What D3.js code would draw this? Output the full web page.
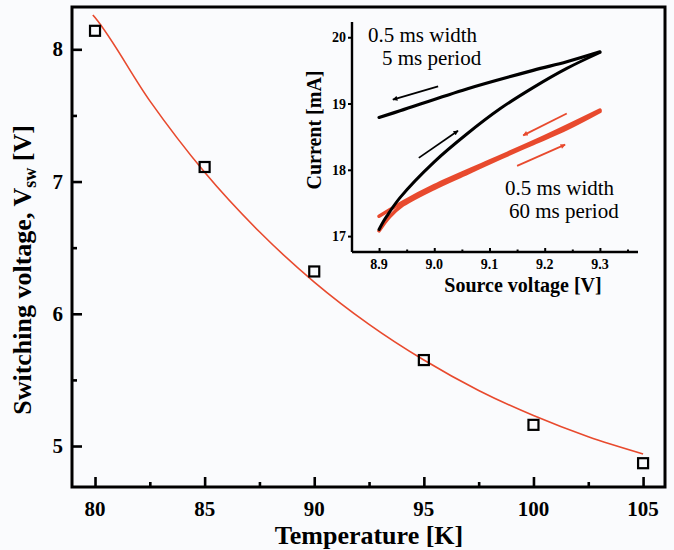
<!DOCTYPE html>
<html>
<head>
<meta charset="utf-8">
<script src="https://cdn.jsdelivr.net/npm/d3@7"></script>
<style>
  html, body { margin: 0; padding: 0; background: #fafbfd; }
  svg { display: block; }
  text { font-family: "Liberation Serif", "Times New Roman", serif; fill: #000; }
</style>
</head>
<body>
<svg id="chart" width="674" height="550"></svg>
<script>
// ---------- main chart data ----------
const temperatures = [80, 85, 90, 95, 100, 105];
const switchingVoltage = [8.14, 7.11, 6.32, 5.65, 5.16, 4.87];
// fitted curve
const fitTemperature = [79.9, 80, 82.5, 85, 87.5, 90, 92.5, 95, 97.5, 100, 102.5, 105];
const fitVoltage = [8.26, 8.24, 7.61, 7.07, 6.62, 6.24, 5.92, 5.65, 5.42, 5.23, 5.07, 4.94];
const xTicks = [80, 85, 90, 95, 100, 105];
const xMinorTicks = [82.5, 87.5, 92.5, 97.5, 102.5];
const yTicks = [5, 6, 7, 8];
const yMinorTicks = [5.5, 6.5, 7.5];

// ---------- inset data ----------
const black5msUpV = [8.9, 8.905, 8.914, 8.938, 9.0, 9.059, 9.119, 9.179, 9.24, 9.3];
const black5msUpI = [17.1, 17.18, 17.3, 17.58, 18.12, 18.54, 18.92, 19.24, 19.53, 19.77];
const black5msDownV = [9.3, 9.24, 9.179, 9.059, 8.938, 8.9];
const black5msDownI = [19.78, 19.63, 19.50, 19.22, 18.89, 18.79];
const red60msUpV = [8.9, 8.91, 8.92, 8.94, 9.0, 9.06, 9.12, 9.18, 9.24, 9.3];
const red60msUpI = [17.08, 17.2, 17.3, 17.45, 17.72, 17.95, 18.18, 18.4, 18.62, 18.88];
const red60msDownV = [9.3, 9.2, 9.1, 9.0, 8.94, 8.92, 8.9];
const red60msDownI = [18.9, 18.5, 18.13, 17.76, 17.5, 17.4, 17.3];
const insetXTicks = [8.9, 9.0, 9.1, 9.2, 9.3];
const insetXMinorTicks = [8.95, 9.05, 9.15, 9.25, 9.35];
const insetYTicks = [17, 18, 19, 20];
// arrows: [fromV, fromI, toV, toI]
const blackArrows = [[9.007, 19.26, 8.925, 19.06], [8.972, 18.18, 9.043, 18.59]];
const redArrows = [[9.240, 18.85, 9.161, 18.52], [9.150, 18.06, 9.237, 18.38]];

const RED = "#e84a2e";
const svg = d3.select("#chart");

svg.append("rect").attr("width", 674).attr("height", 550).attr("fill", "#fafbfd");

// arrow markers
const defs = svg.append("defs");
[["arrBlack", "#000"], ["arrRed", RED]].forEach(([id, c]) => {
  defs.append("marker").attr("id", id)
    .attr("viewBox", "0 0 10 10").attr("refX", 9).attr("refY", 5)
    .attr("markerWidth", 7).attr("markerHeight", 5).attr("markerUnits", "userSpaceOnUse")
    .attr("orient", "auto")
    .append("path").attr("d", "M0,0 L10,5 L0,10 Z").attr("fill", c);
});

// ---------- main chart ----------
const L = 72, R = 665, T = 7, B = 487;
const x = d3.scaleLinear().domain([78.95, 106]).range([L, R]);
const y = d3.scaleLinear().domain([4.69, 8.32]).range([B, T]);

// ticks (inward)
const gx = svg.append("g").attr("transform", `translate(0,${B})`)
  .call(d3.axisTop(x).tickValues(xTicks).tickSize(10).tickFormat(""));
const gxm = svg.append("g").attr("transform", `translate(0,${B})`)
  .call(d3.axisTop(x).tickValues(xMinorTicks).tickSize(5).tickFormat(""));
const gy = svg.append("g").attr("transform", `translate(${L},0)`)
  .call(d3.axisRight(y).tickValues(yTicks).tickSize(10).tickFormat(""));
const gym = svg.append("g").attr("transform", `translate(${L},0)`)
  .call(d3.axisRight(y).tickValues(yMinorTicks).tickSize(5).tickFormat(""));
[gx, gxm, gy, gym].forEach(g => {
  g.select(".domain").remove();
  g.selectAll("line").attr("stroke", "#000").attr("stroke-width", 2.6);
});

// tick labels
svg.append("g").selectAll("text").data(xTicks).join("text")
  .attr("x", d => x(d)).attr("y", 516).attr("text-anchor", "middle")
  .attr("font-size", 21).attr("font-weight", "bold").text(d => d);
svg.append("g").selectAll("text").data(yTicks).join("text")
  .attr("x", 63).attr("y", d => y(d) + 7).attr("text-anchor", "end")
  .attr("font-size", 21).attr("font-weight", "bold").text(d => d);

// frame
svg.append("rect").attr("x", L).attr("y", T).attr("width", R - L).attr("height", B - T)
  .attr("fill", "none").attr("stroke", "#000").attr("stroke-width", 3);

// fit line
const fitData = fitTemperature.map((t, i) => [t, fitVoltage[i]]);
svg.append("path").datum(fitData)
  .attr("d", d3.line().x(d => x(d[0])).y(d => y(d[1])).curve(d3.curveMonotoneX))
  .attr("fill", "none").attr("stroke", RED).attr("stroke-width", 1.6);

// squares
const sq = 10;
svg.append("g").selectAll("rect").data(temperatures.map((t, i) => [t, switchingVoltage[i]])).join("rect")
  .attr("x", d => x(d[0]) - sq / 2).attr("y", d => y(d[1]) - sq / 2)
  .attr("width", sq).attr("height", sq)
  .attr("fill", "none").attr("stroke", "#000").attr("stroke-width", 2.2);

// titles
svg.append("text").attr("x", 369).attr("y", 544).attr("text-anchor", "middle")
  .attr("font-size", 26).attr("font-weight", "bold").text("Temperature [K]");
const yt = svg.append("text").attr("transform", "translate(31,270) rotate(-90)")
  .attr("text-anchor", "middle").attr("font-size", 26).attr("font-weight", "bold");
yt.append("tspan").text("Switching voltage, V");
yt.append("tspan").attr("font-size", 18).attr("dy", 5).text("sw");
yt.append("tspan").attr("dy", -5).text(" [V]");

// ---------- inset ----------
const iL = 352, iR = 638, iT = 22, iB = 252;
const ix = d3.scaleLinear().domain([8.851, 9.369]).range([iL, iR]);
const iy = d3.scaleLinear().domain([16.76, 20.23]).range([iB, iT]);

const ig1 = svg.append("g").attr("transform", `translate(0,${iB})`)
  .call(d3.axisTop(ix).tickValues(insetXTicks).tickSize(4).tickFormat(""));
const ig2 = svg.append("g").attr("transform", `translate(0,${iB})`)
  .call(d3.axisTop(ix).tickValues(insetXMinorTicks).tickSize(2.5).tickFormat(""));
const ig3 = svg.append("g").attr("transform", `translate(${iL},0)`)
  .call(d3.axisLeft(iy).tickValues(insetYTicks).tickSize(4).tickFormat(""));
[ig1, ig2, ig3].forEach(g => {
  g.select(".domain").remove();
  g.selectAll("line").attr("stroke", "#000").attr("stroke-width", 2);
});
svg.append("line").attr("x1", iL).attr("x2", iR).attr("y1", iB).attr("y2", iB)
  .attr("stroke", "#000").attr("stroke-width", 2.4);
svg.append("line").attr("x1", iL).attr("x2", iL).attr("y1", iT).attr("y2", iB)
  .attr("stroke", "#000").attr("stroke-width", 2.4);

svg.append("g").selectAll("text").data(insetXTicks).join("text")
  .attr("x", d => ix(d)).attr("y", 269).attr("text-anchor", "middle")
  .attr("font-size", 14).attr("font-weight", "bold").text(d => d.toFixed(1));
svg.append("g").selectAll("text").data(insetYTicks).join("text")
  .attr("x", 346).attr("y", d => iy(d) + 5).attr("text-anchor", "end")
  .attr("font-size", 14).attr("font-weight", "bold").text(d => d);

svg.append("text").attr("x", 523).attr("y", 292).attr("text-anchor", "middle")
  .attr("font-size", 20).attr("font-weight", "bold").text("Source voltage [V]");
svg.append("text").attr("transform", "translate(321,130) rotate(-90)").attr("text-anchor", "middle")
  .attr("font-size", 20).attr("font-weight", "bold").text("Current [mA]");

const iline = d3.line().x(d => ix(d[0])).y(d => iy(d[1])).curve(d3.curveCatmullRom);
function series(vs, is) { return vs.map((v, i) => [v, is[i]]); }

svg.append("path").datum(series(red60msDownV, red60msDownI)).attr("d", iline)
  .attr("fill", "none").attr("stroke", RED).attr("stroke-width", 3.6).attr("stroke-linecap", "round");
svg.append("path").datum(series(red60msUpV, red60msUpI)).attr("d", iline)
  .attr("fill", "none").attr("stroke", RED).attr("stroke-width", 3.6).attr("stroke-linecap", "round");
svg.append("path").datum(series(black5msUpV, black5msUpI)).attr("d", iline)
  .attr("fill", "none").attr("stroke", "#000").attr("stroke-width", 3).attr("stroke-linecap", "round");
svg.append("path").datum(series(black5msDownV, black5msDownI)).attr("d", iline)
  .attr("fill", "none").attr("stroke", "#000").attr("stroke-width", 3.2).attr("stroke-linecap", "round");

svg.append("g").selectAll("line").data(blackArrows).join("line")
  .attr("x1", d => ix(d[0])).attr("y1", d => iy(d[1]))
  .attr("x2", d => ix(d[2])).attr("y2", d => iy(d[3]))
  .attr("stroke", "#000").attr("stroke-width", 1.8).attr("marker-end", "url(#arrBlack)");
svg.append("g").selectAll("line").data(redArrows).join("line")
  .attr("x1", d => ix(d[0])).attr("y1", d => iy(d[1]))
  .attr("x2", d => ix(d[2])).attr("y2", d => iy(d[3]))
  .attr("stroke", RED).attr("stroke-width", 1.8).attr("marker-end", "url(#arrRed)");

// annotations
svg.append("text").attr("x", 368).attr("y", 41.5).attr("font-size", 21).text("0.5 ms width");
svg.append("text").attr("x", 382).attr("y", 65).attr("font-size", 21).text("5 ms period");
svg.append("text").attr("x", 505).attr("y", 194.5).attr("font-size", 21).text("0.5 ms width");
svg.append("text").attr("x", 509).attr("y", 218).attr("font-size", 21).text("60 ms period");
</script>
</body>
</html>
